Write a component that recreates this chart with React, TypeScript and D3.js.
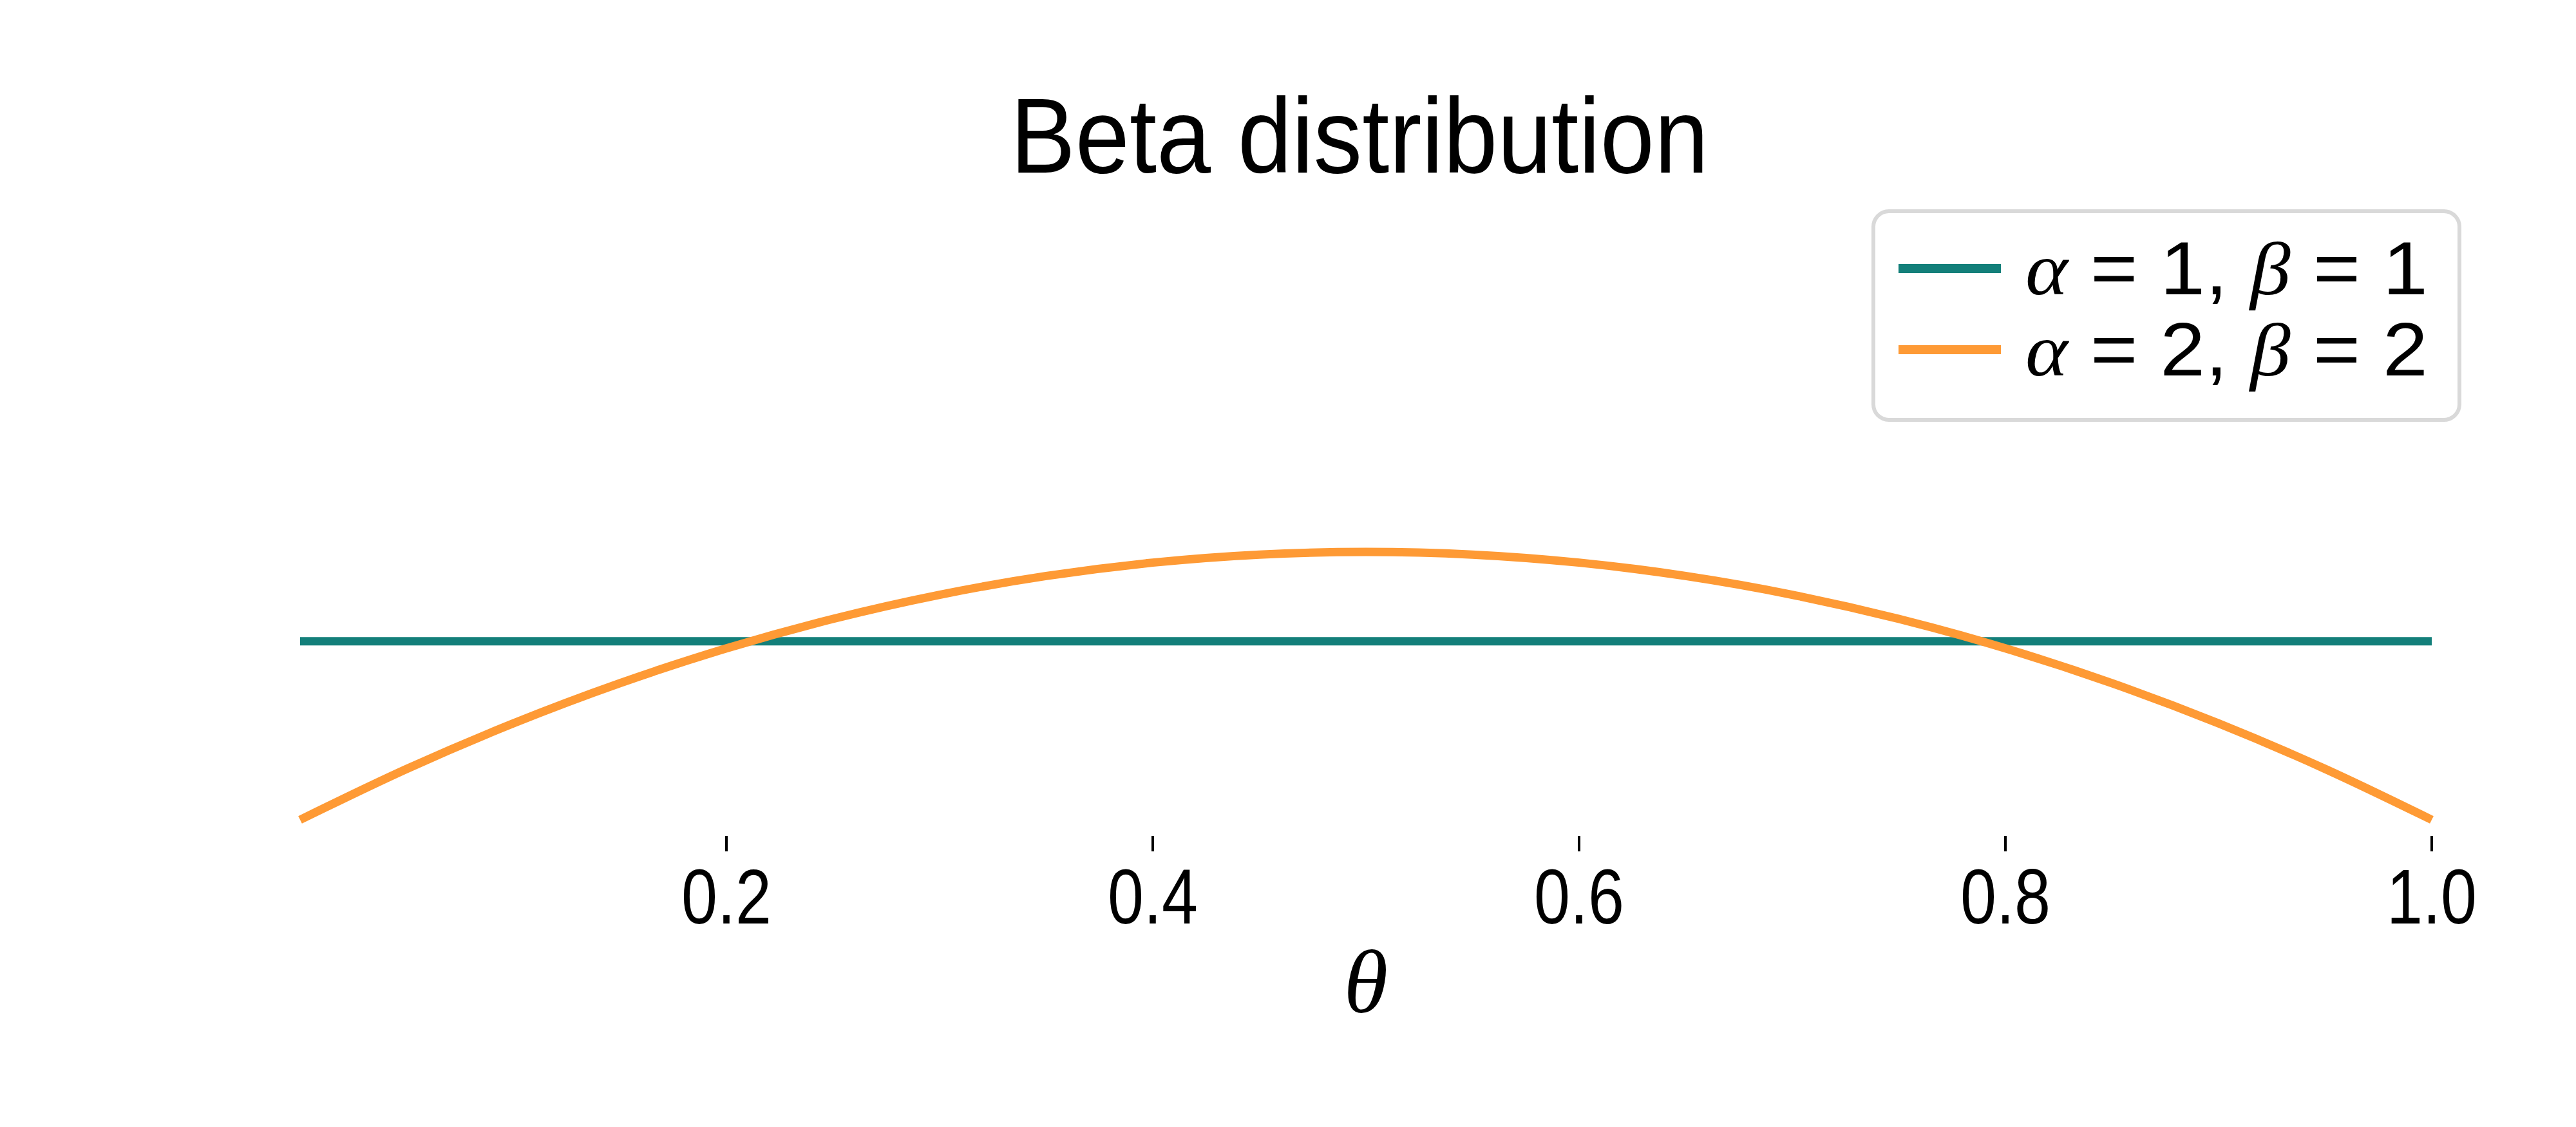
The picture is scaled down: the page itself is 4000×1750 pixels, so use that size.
import React from 'react';
import * as d3 from 'd3';

// theta grid and densities
const thetas = [0, 0.05, 0.1, 0.15, 0.2, 0.25, 0.3, 0.35, 0.4, 0.45, 0.5, 0.55, 0.6, 0.65, 0.7, 0.75, 0.8, 0.85, 0.9, 0.95, 1];
const beta22 = [0, 0.285, 0.54, 0.765, 0.96, 1.125, 1.26, 1.365, 1.44, 1.485, 1.5, 1.485, 1.44, 1.365, 1.26, 1.125, 0.96, 0.765, 0.54, 0.285, 0];
const uniformThetas = [0, 1];
const beta11 = [1, 1];
const xTicks = [0.2, 0.4, 0.6, 0.8, 1.0];
const seriesNames = [
	{ a: '1', b: '1' },
	{ a: '2', b: '2' },
];
const colors = ['#137f7a', '#fe9a35'];

const W = 4000;
const H = 1750;

const App: React.FC = () => {
	const x = d3.scaleLinear().domain([0, 1]).range([466, 3776]);
	const y = d3.scaleLinear().domain([0, 1.5]).range([1273, 857]);

	const line = d3.line<[number, number]>()
		.x(d => x(d[0]))
		.y(d => y(d[1]))
		.curve(d3.curveMonotoneX);

	const series = [
		uniformThetas.map((t, i) => [t, beta11[i]] as [number, number]),
		thetas.map((t, i) => [t, beta22[i]] as [number, number]),
	];

	const axisY = 1298;
	const sans = '"Liberation Sans", "DejaVu Sans", sans-serif';
	const serif = '"Liberation Serif", "DejaVu Serif", serif';

	const legend = { x: 2909, y: 328, w: 910, h: 324 };
	const rowY = [417, 543];

	return (
		<svg width={W} height={H} style={{ position: 'absolute', left: 0, top: 0, background: '#fff' }}>
			<rect x={0} y={0} width={W} height={H} fill="#fff" />
			<text x={2111} y={268} fontFamily={sans} fontSize={165} textAnchor="middle"
				textLength={1084} lengthAdjust="spacingAndGlyphs" fill="#000">Beta distribution</text>

			{series.map((s, i) => (
				<path key={i} d={line(s) || ''} fill="none" stroke={colors[i]} strokeWidth={13} />
			))}

			{xTicks.map(t => (
				<g key={t} transform={`translate(${x(t)},0)`}>
					<line y1={axisY} y2={axisY + 24} stroke="#000" strokeWidth={4} />
					<text y={1434} fontFamily={sans} fontSize={120} textAnchor="middle"
						textLength={140} lengthAdjust="spacingAndGlyphs" fill="#000">{t.toFixed(1)}</text>
				</g>
			))}

			<text x={2121} y={1572} fontFamily={serif} fontStyle="italic" fontSize={140} textAnchor="middle" fill="#000">θ</text>

			<rect x={legend.x} y={legend.y} width={legend.w} height={legend.h} rx={24} ry={24}
				fill="#fff" stroke="#d9d9d9" strokeWidth={6} />
			{seriesNames.map((n, i) => (
				<g key={i}>
					<line x1={2948} x2={3107} y1={rowY[i]} y2={rowY[i]} stroke={colors[i]} strokeWidth={14} />
					<text x={3145} y={rowY[i] + 40} fontSize={117} fill="#000" textLength={625} lengthAdjust="spacingAndGlyphs">
						<tspan fontFamily={serif} fontStyle="italic">α</tspan>
						<tspan fontFamily={sans}> = {n.a}, </tspan>
						<tspan fontFamily={serif} fontStyle="italic">β</tspan>
						<tspan fontFamily={sans}> = {n.b}</tspan>
					</text>
				</g>
			))}
		</svg>
	);
};

export default App;
